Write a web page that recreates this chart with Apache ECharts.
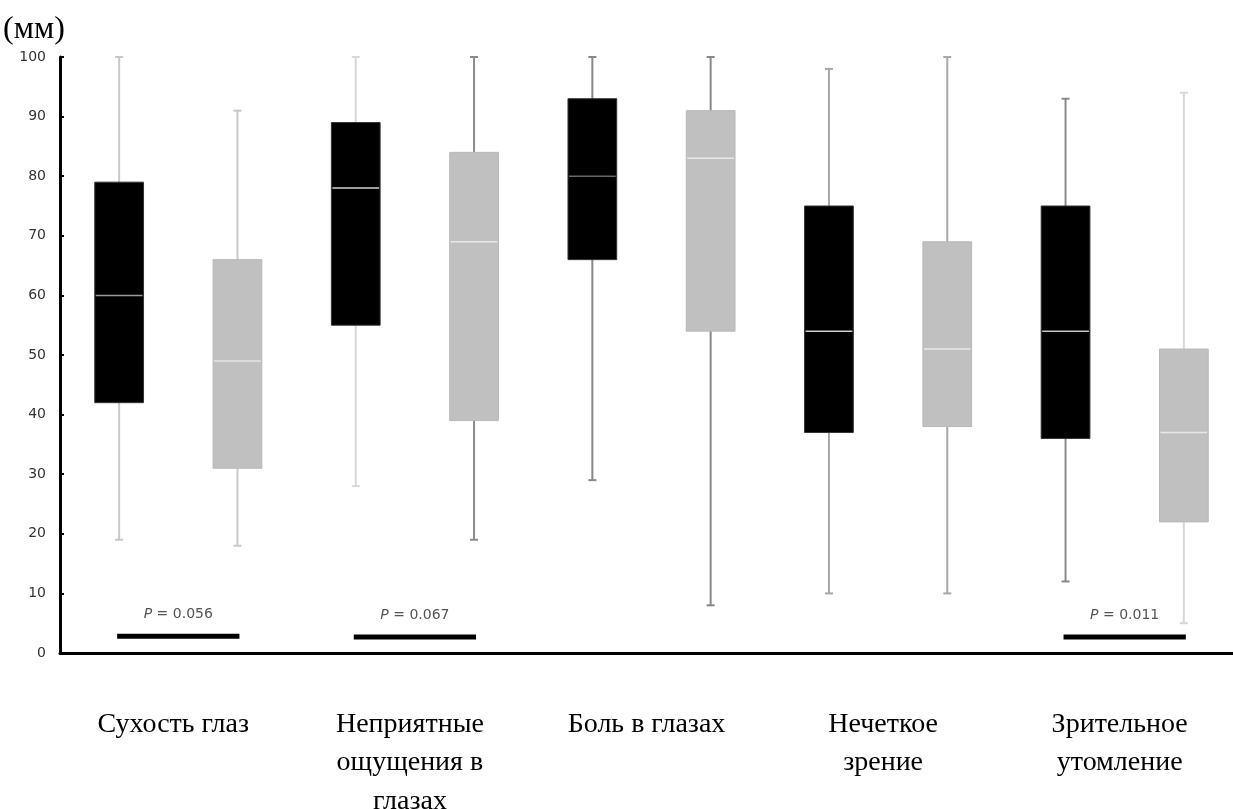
<!DOCTYPE html>
<html>
<head>
<meta charset="utf-8">
<script src="https://cdn.jsdelivr.net/npm/echarts@6/dist/echarts.min.js"></script>
<style>
html,body{margin:0;padding:0;background:#fff;overflow:hidden;}
#chart{width:1233px;height:809px;}
</style>
</head>
<body>
<div id="chart"></div>
<script>
// Categories (x axis)
const categories = ['Сухость глаз', 'Неприятные\nощущения в\nглазах', 'Боль в глазах', 'Нечеткое\nзрение', 'Зрительное\nутомление'];
// Box values: [min, Q1, median, Q3, max]
const blackGroup = [
  [19, 42, 60, 79, 100],
  [28, 55, 78, 89, 100],
  [29, 66, 80, 93, 100],
  [10, 37, 54, 75, 98],
  [12, 36, 54, 75, 93]
];
const grayGroup = [
  [18, 31, 49, 66, 91],
  [19, 39, 69, 84, 100],
  [8, 54, 83, 91, 100],
  [10, 38, 51, 69, 100],
  [5, 22, 37, 51, 94]
];
// Significance markers
const pCategoryIndex = [0, 1, 4];
const pValues = ['0.056', '0.067', '0.011'];
const pBarLevel = [2.8, 2.7, 2.7];
// Y ticks
const yMin = 0, yMax = 100, yInterval = 10;

// styles (kept separate from data)
const blackStyle = {
  fill: '#000', border: '#333',
  whisker: ['#c8c8c8', '#d8d8d8', '#888888', '#a8a8a8', '#8a8a8a'],
  median: ['#9a9a9a', '#d0d0d0', '#666666', '#d0d0d0', '#c8c8c8']
};
const grayStyle = {
  fill: '#c0c0c0', border: '#b8b8b8',
  whisker: ['#c8c8c8', '#8a8a8a', '#888888', '#a8a8a8', '#d8d8d8'],
  median: ['#e4e4e4', '#e8e8e8', '#e8e8e8', '#e8e8e8', '#e8e8e8']
};

function boxRenderer(side, style) {
  return function (params, api) {
    const i = api.value(0);
    const bw = api.size([1, 0])[0];
    const base = api.coord([i, 0]);
    const cx = base[0] + side * bw / 4;
    const half = bw * 0.103;
    const yLo = api.coord([i, api.value(1)])[1];
    const yQ1 = api.coord([i, api.value(2)])[1];
    const yMed = api.coord([i, api.value(3)])[1];
    const yQ3 = api.coord([i, api.value(4)])[1];
    const yHi = api.coord([i, api.value(5)])[1];
    const wc = style.whisker[params.dataIndex];
    const mc = style.median[params.dataIndex];
    const cap = 4;
    return {
      type: 'group',
      children: [
        { type: 'line', shape: { x1: cx, y1: yLo, x2: cx, y2: yHi }, style: { stroke: wc, lineWidth: 2 } },
        { type: 'line', shape: { x1: cx - cap, y1: yHi, x2: cx + cap, y2: yHi }, style: { stroke: wc, lineWidth: 2 } },
        { type: 'line', shape: { x1: cx - cap, y1: yLo, x2: cx + cap, y2: yLo }, style: { stroke: wc, lineWidth: 2 } },
        { type: 'rect', shape: { x: cx - half, y: yQ3, width: half * 2, height: yQ1 - yQ3 }, style: { fill: style.fill, stroke: style.border, lineWidth: 1 } },
        { type: 'line', shape: { x1: cx - half + 1, y1: yMed, x2: cx + half - 1, y2: yMed }, style: { stroke: mc, lineWidth: 1.5 } }
      ]
    };
  };
}

function pRenderer(params, api) {
  const i = api.value(0);
  const bw = api.size([1, 0])[0];
  const base = api.coord([i, api.value(1)]);
  const x1 = base[0] - bw / 4 - 2;
  const x2 = base[0] + bw / 4 + 2;
  const y = base[1];
  const label = pValues[params.dataIndex];
  return {
    type: 'group',
    children: [
      { type: 'line', shape: { x1: x1, y1: y, x2: x2, y2: y }, style: { stroke: '#000', lineWidth: 5 } },
      { type: 'text', x: base[0], y: y - 22, style: {
          text: '{i|P} = ' + label,
          align: 'center', verticalAlign: 'middle',
          fontFamily: 'DejaVu Sans, sans-serif', fontSize: 14, fill: '#555',
          rich: { i: { fontStyle: 'italic', fontFamily: 'DejaVu Sans, sans-serif', fontSize: 14, fill: '#555' } }
      } }
    ]
  };
}

const chart = echarts.init(document.getElementById('chart'), null, { width: 1233, height: 809 });
chart.setOption({
  animation: false,
  backgroundColor: '#fff',
  title: {
    text: '(мм)', left: -2, top: 9,
    textStyle: { fontFamily: 'Liberation Serif, Times New Roman, serif', fontSize: 32, fontWeight: 'normal', color: '#000' }
  },
  grid: { left: 60, top: 57, width: 1183, height: 596, containLabel: false, outerBoundsMode: 'none' },
  xAxis: {
    type: 'category',
    data: categories,
    boundaryGap: true,
    axisLine: { show: true, lineStyle: { color: '#000', width: 3 } },
    axisTick: { show: false },
    axisLabel: {
      interval: 0, margin: 52,
      fontFamily: 'Liberation Serif, Times New Roman, serif', fontSize: 28, color: '#000',
      lineHeight: 38.5, verticalAlign: 'top', align: 'center',
      padding: [0, 10, 0, 0]
    },
    splitLine: { show: false }
  },
  yAxis: {
    type: 'value', min: yMin, max: yMax, interval: yInterval,
    axisLine: { show: true, lineStyle: { color: '#000', width: 3 } },
    axisTick: { show: true, inside: true, length: 4, lineStyle: { color: '#000', width: 2 } },
    axisLabel: { margin: 14, fontFamily: 'DejaVu Sans, sans-serif', fontSize: 14, color: '#333' },
    splitLine: { show: false }
  },
  series: [
    {
      type: 'custom', name: 'black',
      renderItem: boxRenderer(-1, blackStyle),
      encode: { x: 0, y: [1, 2, 3, 4, 5] },
      data: blackGroup.map((d, i) => [i].concat(d)),
      z: 2
    },
    {
      type: 'custom', name: 'gray',
      renderItem: boxRenderer(1, grayStyle),
      encode: { x: 0, y: [1, 2, 3, 4, 5] },
      data: grayGroup.map((d, i) => [i].concat(d)),
      z: 2
    },
    {
      type: 'custom', name: 'p',
      renderItem: pRenderer,
      encode: { x: 0, y: 1 },
      data: pCategoryIndex.map((c, k) => [c, pBarLevel[k]]),
      z: 3
    }
  ]
});
</script>
</body>
</html>
